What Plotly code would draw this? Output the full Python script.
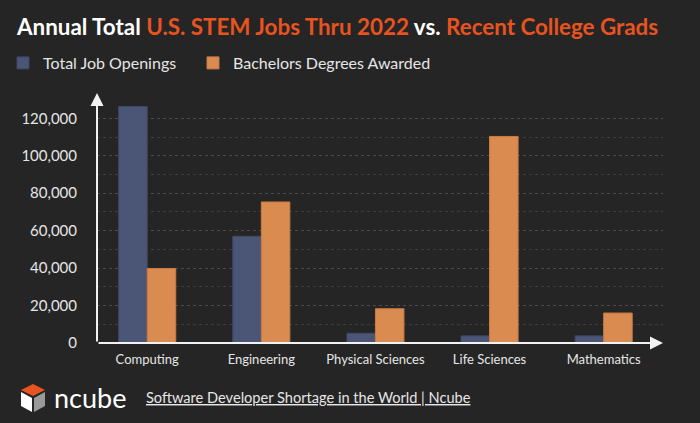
import plotly.graph_objects as go

# chart data
categories = ["Computing", "Engineering", "Physical Sciences", "Life Sciences", "Mathematics"]
job_openings = [126300, 57000, 5200, 3800, 3800]
degrees_awarded = [39800, 75300, 18300, 110300, 16000]

y_ticks = [0, 20000, 40000, 60000, 80000, 100000, 120000]
y_minor = [10000, 30000, 50000, 70000, 90000, 110000]

BG = "#252525"
BLUE = "#4b5677"
ORANGE = "#d98b50"
RED = "#e8531f"
TEXT = "#e6e6e6"
FONT = "Lato"

W, H = 700, 423
L, R, T, B = 97, 37, 93, 80


def px(x, y):
    # pixel on the page -> paper coords, margins are fixed above
    return (x - L) / (W - L - R), (H - B - y) / (H - T - B)


fig = go.Figure()
fig.add_trace(go.Bar(x=categories, y=job_openings, name="Total Job Openings",
                     legend="legend",
                     marker=dict(color=BLUE, line=dict(color="#3f4866", width=1))))
fig.add_trace(go.Bar(x=categories, y=degrees_awarded, name="Bachelors Degrees Awarded",
                     legend="legend2",
                     marker=dict(color=ORANGE, line=dict(color="#c97c44", width=1))))

title = ("<b>Annual Total <span style='color:%s'>U.S. STEM Jobs Thru 2022</span> vs. "
         "<span style='color:%s'>Recent College Grads</span></b>" % (RED, RED))

legend_style = dict(orientation="h", xref="container", yref="container",
                    y=1 - 63 / H, xanchor="left", yanchor="middle",
                    font=dict(size=16, color=TEXT), bgcolor="rgba(0,0,0,0)")

fig.update_layout(
    width=W, height=H,
    paper_bgcolor=BG, plot_bgcolor=BG,
    margin=dict(l=L, r=R, t=T, b=B, autoexpand=False),
    font=dict(family=FONT, color=TEXT, size=14),
    title=dict(text=title, x=17 / W, xref="container", xanchor="left",
               y=1 - 27 / H, yref="container", yanchor="middle",
               font=dict(size=22.4, color="#ffffff", family=FONT)),
    barmode="group", bargap=0.5, bargroupgap=0,
    showlegend=True,
    legend=dict(x=3 / W, **legend_style),
    legend2=dict(x=193 / W, **legend_style),
    xaxis=dict(range=[-0.44, 4.52], showgrid=False, showline=False, zeroline=False,
               tickfont=dict(size=13, color=TEXT), ticks="outside", ticklen=4,
               tickcolor="rgba(0,0,0,0)"),
    yaxis=dict(range=[0, 133500], tickvals=y_ticks, tickformat=",",
               showgrid=True, gridcolor="#4a4a4a", griddash="dot", gridwidth=1,
               zeroline=False, showline=False,
               minor=dict(tickvals=y_minor, showgrid=True, gridcolor="#3c3c3c",
                          griddash="dot", gridwidth=1),
               tickfont=dict(size=15, color=TEXT), ticks="outside", ticklen=16,
               tickcolor="rgba(0,0,0,0)"),
)

# axis lines with arrow heads
fig.add_annotation(x=0, y=1, xref="x domain", yref="y domain", ax=0, ay=H - T - B,
                   axref="pixel", ayref="pixel", showarrow=True, arrowhead=2,
                   arrowsize=1.3, arrowwidth=2, arrowcolor="#f2f2f2", text="")
fig.add_annotation(x=1, y=0, xref="x domain", yref="y domain", ax=-(W - L - R), ay=0,
                   axref="pixel", ayref="pixel", showarrow=True, arrowhead=2,
                   arrowsize=1.3, arrowwidth=2, arrowcolor="#f2f2f2", text="")


# ncube logo
def face(points, color):
    pts = [px(x, y) for x, y in points]
    path = "M" + "L".join("%f,%f" % p for p in pts) + "Z"
    fig.add_shape(type="path", path=path, xref="paper", yref="paper",
                  fillcolor=color, line=dict(width=0), layer="above")


face([(33, 384), (45, 390), (33, 396), (21, 390)], RED)
face([(21, 392), (32, 398), (32, 412), (21, 406)], "#ffffff")
face([(34, 398), (45, 392), (45, 406), (34, 412)], "#9a9a9a")

lx, ly = px(52, 397)
fig.add_annotation(text="ncube", x=lx, y=ly, xref="paper", yref="paper",
                   showarrow=False, xanchor="left", yanchor="middle",
                   font=dict(size=27, color="#ffffff", family=FONT))
sx, sy = px(144, 397)
fig.add_annotation(text="<u>Software Developer Shortage in the World | Ncube</u>",
                   x=sx, y=sy, xref="paper", yref="paper",
                   showarrow=False, xanchor="left", yanchor="middle",
                   font=dict(size=14.6, color=TEXT, family=FONT))

# drop the default page margin so the figure sits at the window corner
fig.write_html("out.html", config={"displayModeBar": False},
               post_script="document.body.style.margin='0';")
